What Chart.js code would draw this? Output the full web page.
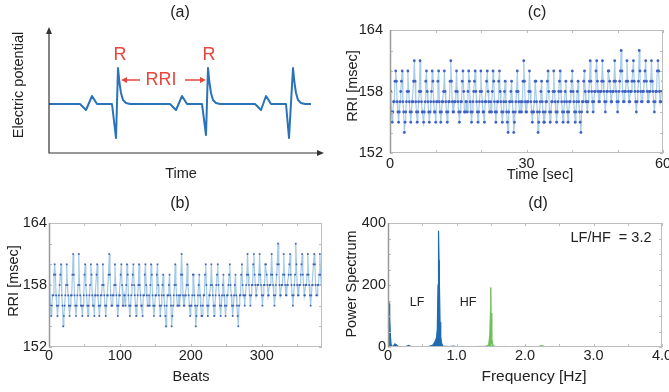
<!DOCTYPE html>
<html>
<head>
<meta charset="utf-8">
<script src="https://cdn.jsdelivr.net/npm/chart.js@4.4.1/dist/chart.umd.min.js"></script>
<style>
  html, body { margin: 0; padding: 0; background: #fff; }
  #wrap { position: relative; width: 669px; height: 392px; overflow: hidden; background: #fff; }
  #wrap canvas { position: absolute; left: 0; top: 0; }
</style>
</head>
<body>
<div id="wrap">
  <canvas id="ecgChart" width="669" height="392"></canvas>
  <canvas id="beatChart" width="669" height="392"></canvas>
  <canvas id="timeChart" width="669" height="392"></canvas>
  <canvas id="psdChart" width="669" height="392"></canvas>
</div>
<script>
// (a) schematic ECG trace (arbitrary units)
const ecgTime = [0, 31, 37, 43, 48, 63, 67, 69, 70.5, 72, 74, 77, 81,
  121, 127, 133, 138, 153, 157, 159, 160.5, 162, 164, 167, 171,
  206, 212, 217, 222, 237, 240, 244, 245.5, 247, 249, 252, 256, 262];
const ecgPotential = [49, 49, 43, 57, 49, 49, 15, 85, 70, 60, 53, 50, 49,
  49, 43, 57, 49, 49, 18, 85, 70, 60, 53, 50, 49,
  49, 43, 57, 49, 49, 15, 85, 70, 60, 53, 50, 49, 49];

// (b)/(c) RR intervals in msec, one per beat
const rri = [
  160, 158, 156, 155, 156, 157, 157, 159,
  160, 159, 157, 156, 155, 156, 157, 158, 159,
  160, 157, 156, 154, 155, 156, 157, 158,
  160, 158, 157, 156, 155, 156, 157, 157, 159,
  161, 159, 157, 156, 155, 156, 157, 158,
  161, 158, 157, 156, 156, 155, 156, 157, 159,
  160, 158, 157, 156, 155, 156, 157, 158,
  160, 159, 157, 156, 156, 155, 157, 157, 159,
  160, 157, 156, 155, 156, 157, 157, 158,
  160, 158, 157, 156, 155, 156, 157, 157, 159,
  161, 159, 157, 156, 156, 157, 157, 158,
  160, 158, 157, 156, 155, 156, 157, 157, 159,
  160, 158, 156, 156, 157, 157, 156, 158,
  160, 159, 157, 156, 155, 156, 157, 158, 159,
  160, 158, 157, 156, 155, 156, 157, 158,
  160, 158, 157, 156, 156, 155, 157, 157, 159,
  160, 158, 157, 156, 156, 157, 156, 158,
  160, 159, 157, 156, 155, 156, 157, 157, 159,
  160, 158, 157, 156, 155, 156, 157, 158,
  159, 157, 156, 155, 154, 156, 157, 157, 158,
  159, 157, 156, 154, 155, 156, 157, 158,
  160, 158, 157, 156, 156, 157, 156, 157, 159,
  161, 159, 157, 156, 156, 157, 157, 158,
  160, 158, 157, 156, 155, 156, 156, 157, 159,
  159, 157, 156, 154, 155, 156, 157, 158,
  159, 157, 156, 155, 155, 156, 157, 157, 159,
  160, 158, 156, 155, 156, 157, 157, 158,
  160, 158, 157, 156, 155, 156, 157, 158, 159,
  160, 158, 157, 156, 155, 156, 157, 158,
  159, 157, 156, 155, 156, 157, 157, 158, 159,
  160, 158, 157, 156, 155, 156, 157, 158,
  159, 157, 156, 155, 154, 156, 157, 157, 159,
  160, 158, 157, 157, 156, 157, 158, 159,
  161, 159, 158, 157, 156, 157, 158, 158, 160,
  161, 159, 158, 157, 157, 158, 158, 159,
  161, 159, 158, 157, 156, 157, 158, 158, 160,
  160, 159, 158, 157, 157, 158, 158, 159,
  161, 159, 158, 157, 156, 157, 158, 159, 160,
  162, 160, 158, 157, 157, 158, 158, 159,
  161, 159, 158, 157, 157, 158, 158, 159, 160,
  161, 159, 158, 157, 156, 157, 158, 159,
  162, 160, 158, 157, 157, 158, 158, 159, 160,
  161, 159, 158, 157, 157, 158, 158, 159,
  161, 159, 158, 157, 156, 157, 158, 158, 160,
  161, 160, 158, 157, 157, 158, 158, 159,
  161, 159, 158
];

// (d) power spectrum
const lfFreq = [0, 0.005, 0.015, 0.025, 0.035, 0.045, 0.06, 0.08, 0.1, 0.12, 0.15,
  0.2, 0.25, 0.28, 0.3, 0.33, 0.4, 0.5, 0.6, 0.65, 0.68, 0.7, 0.71, 0.72, 0.73,
  0.735, 0.74, 0.745, 0.75, 0.76, 0.77, 0.78, 0.8, 0.85, 0.9, 0.95, 1.0];
const lfPower = [90, 135, 140, 95, 35, 8, 2, 3, 10, 7, 2,
  1, 1, 3, 5, 2, 1, 1, 2, 5, 14, 25, 32, 60, 200,
  290, 375, 280, 210, 80, 35, 14, 3, 2, 1, 3, 1];
const hfFreq = [1.0, 1.1, 1.2, 1.3, 1.4, 1.45, 1.47, 1.485, 1.495, 1.5, 1.505, 1.515,
  1.53, 1.56, 1.6, 1.7, 1.8, 1.9, 2.0, 2.1, 2.2, 2.24, 2.26, 2.3, 2.4, 2.5, 2.6, 2.65];
const hfPower = [1, 2, 1, 2, 2, 4, 10, 40, 120, 192, 110, 30,
  8, 2, 1, 2, 1, 2, 1, 1, 2, 5, 4, 1, 2, 1, 2, 0];
const tailFreq = [3.55, 3.7, 3.85, 4.0];
const tailPower = [1, 1.5, 1, 1.5];

// tick labels
const rriTicks = [152, 158, 164];
const beatTicks = [0, 100, 200, 300];
const timeTicks = [0, 30, 60];
const powerTicks = [0, 200, 400];
const freqTicks = [0, 1, 2, 3, 4];
const freqTickLabels = ["0", "1.0", "2.0", "3.0", "4.0"];

const W = 669, H = 392;
const FONT = '"Liberation Sans", Arial, Helvetica, sans-serif';
const INK = "#222";

const toXY = (xs, ys) => xs.map((x, i) => ({ x: x, y: ys[i] }));

// time of each beat = running sum of the RR intervals
const beatTime = [];
let acc = 0;
rri.forEach((v) => {
  beatTime.push(acc);
  acc += v / 1000;
});

// free text drawn in canvas pixels
const textLayer = (items) => ({
  id: "texts",
  afterDraw(chart) {
    const ctx = chart.ctx;
    items.forEach((it) => {
      ctx.save();
      ctx.font = it.size + "px " + FONT;
      ctx.fillStyle = it.color || INK;
      ctx.textAlign = "center";
      ctx.textBaseline = "middle";
      ctx.translate(it.x, it.y);
      if (it.rot) ctx.rotate(it.rot);
      ctx.fillText(it.text, 0, 0);
      ctx.restore();
    });
  },
});

// matlab-like box with inward ticks
const boxLayer = {
  id: "box",
  afterDatasetsDraw(chart) {
    const { ctx, chartArea: a, scales } = chart;
    const x = scales.x, y = scales.y;
    ctx.save();
    ctx.strokeStyle = "#bdbdbd";
    ctx.lineWidth = 1;
    ctx.strokeRect(a.left + 0.5, a.top + 0.5, a.width - 1, a.height - 1);
    ctx.beginPath();
    x.ticks.forEach((t) => {
      const px = Math.round(x.getPixelForValue(t.value)) + 0.5;
      ctx.moveTo(px, a.bottom); ctx.lineTo(px, a.bottom - 3);
      ctx.moveTo(px, a.top); ctx.lineTo(px, a.top + 3);
    });
    y.ticks.forEach((t) => {
      const py = Math.round(y.getPixelForValue(t.value)) + 0.5;
      ctx.moveTo(a.left, py); ctx.lineTo(a.left + 3, py);
      ctx.moveTo(a.right, py); ctx.lineTo(a.right - 3, py);
    });
    ctx.stroke();
    ctx.strokeStyle = "#9a9a9a";
    ctx.lineWidth = 1.5;
    ctx.beginPath();
    ctx.moveTo(a.left + 0.5, a.top); ctx.lineTo(a.left + 0.5, a.bottom);
    ctx.stroke();
    ctx.restore();
  },
};

// (a) arrows and axes
const ecgDecor = {
  id: "ecgDecor",
  afterDraw(chart) {
    const { ctx, chartArea: a } = chart;
    const head = (x, y, dx, dy, len, wid) => {
      ctx.beginPath();
      ctx.moveTo(x, y);
      ctx.lineTo(x - dx * len - dy * wid, y - dy * len - dx * wid);
      ctx.lineTo(x - dx * len + dy * wid, y - dy * len + dx * wid);
      ctx.closePath();
      ctx.fill();
    };
    ctx.save();
    ctx.strokeStyle = "#333";
    ctx.fillStyle = "#333";
    ctx.lineWidth = 1.2;
    ctx.beginPath();
    ctx.moveTo(a.left, a.top + 2);
    ctx.lineTo(a.left, a.bottom);
    ctx.lineTo(a.right + 1, a.bottom);
    ctx.stroke();
    head(a.left, a.top - 3, 0, -1, 7, 3);
    head(a.right + 4, a.bottom, 1, 0, 7, 3);

    ctx.strokeStyle = "#e8463d";
    ctx.fillStyle = "#e8463d";
    ctx.lineWidth = 1.3;
    ctx.beginPath();
    ctx.moveTo(140, 80); ctx.lineTo(125, 80);
    ctx.moveTo(185, 80); ctx.lineTo(202, 80);
    ctx.stroke();
    head(121, 80, -1, 0, 6, 3);
    head(206, 80, 1, 0, 6, 3);
    ctx.restore();
  },
};

const fixedAxis = (size, horizontal) => (scale) => {
  if (horizontal) scale.height = size; else scale.width = size;
  scale.paddingLeft = 0; scale.paddingRight = 0;
  scale.paddingTop = 0; scale.paddingBottom = 0;
};

const layoutFor = (area, yW, xH) => ({
  padding: {
    left: area.left - yW,
    top: area.top,
    right: W - area.right,
    bottom: H - area.bottom - xH,
  },
});

const tickFont = { family: FONT, size: 14.5 };

const axis = (opts) => ({
  type: "linear",
  min: opts.min,
  max: opts.max,
  grid: { display: false, drawTicks: false },
  border: { display: false },
  afterFit: fixedAxis(opts.size, opts.horizontal),
  ticks: {
    stepSize: opts.step,
    includeBounds: false,
    autoSkip: false,
    maxRotation: 0,
    padding: opts.pad,
    color: INK,
    font: tickFont,
    callback: opts.label,
  },
});

const base = {
  responsive: false,
  animation: false,
  devicePixelRatio: 1,
  plugins: { legend: { display: false }, tooltip: { enabled: false } },
};

// (a)
const areaA = { left: 49, top: 30, right: 320, bottom: 153 };
new Chart(document.getElementById("ecgChart"), {
  type: "line",
  data: {
    datasets: [{
      data: toXY(ecgTime, ecgPotential),
      borderColor: "#2a73b8",
      borderWidth: 2,
      pointRadius: 0,
      tension: 0,
      borderJoinStyle: "round",
    }],
  },
  options: {
    ...base,
    layout: layoutFor(areaA, 0, 0),
    scales: {
      x: { type: "linear", display: false, min: 0, max: 271 },
      y: { type: "linear", display: false, min: 0, max: 123 },
    },
  },
  plugins: [ecgDecor, textLayer([
    { text: "(a)", x: 180, y: 13, size: 16 },
    { text: "Electric potential", x: 19, y: 85, size: 14.5, rot: -Math.PI / 2 },
    { text: "Time", x: 181, y: 174, size: 14.5 },
    { text: "R", x: 120, y: 55, size: 18, color: "#e8463d" },
    { text: "R", x: 209, y: 55, size: 18, color: "#e8463d" },
    { text: "RRI", x: 161, y: 80, size: 18, color: "#e8463d" },
  ])],
});

// (b)
const areaB = { left: 49, top: 223, right: 322, bottom: 347 };
new Chart(document.getElementById("beatChart"), {
  type: "line",
  data: {
    datasets: [{
      data: toXY(rri.map((v, i) => i), rri),
      borderColor: "#a3c9e7",
      borderWidth: 1.2,
      pointRadius: 1.2,
      pointStyle: "rect",
      pointBorderWidth: 0,
      pointBackgroundColor: "#3a5db5",
      tension: 0,
    }],
  },
  options: {
    ...base,
    layout: layoutFor(areaB, 49, 30),
    scales: {
      x: axis({ min: 0, max: 385, step: 50, size: 30, horizontal: true, pad: 0,
        label: (v) => (beatTicks.includes(v) ? String(v) : "") }),
      y: axis({ min: 152, max: 164, step: 2, size: 49, horizontal: false, pad: 2,
        label: (v) => (rriTicks.includes(v) ? String(v) : "") }),
    },
  },
  plugins: [boxLayer, textLayer([
    { text: "(b)", x: 180, y: 204, size: 16 },
    { text: "RRI [msec]", x: 14, y: 281, size: 14.5, rot: -Math.PI / 2 },
    { text: "Beats", x: 191, y: 377, size: 14.5 },
  ])],
});

// (c)
const areaC = { left: 390, top: 30, right: 663, bottom: 153 };
new Chart(document.getElementById("timeChart"), {
  type: "line",
  data: {
    datasets: [{
      data: toXY(beatTime, rri),
      borderColor: "#a8cce9",
      borderWidth: 1.2,
      pointRadius: 1.4,
      pointBorderWidth: 0,
      pointBackgroundColor: "#4062c4",
      tension: 0,
    }],
  },
  options: {
    ...base,
    layout: layoutFor(areaC, 60, 30),
    scales: {
      x: axis({ min: 0, max: 60, step: 10, size: 30, horizontal: true, pad: 2,
        label: (v) => (timeTicks.includes(v) ? String(v) : "") }),
      y: axis({ min: 152, max: 164, step: 2, size: 60, horizontal: false, pad: 7,
        label: (v) => (rriTicks.includes(v) ? String(v) : "") }),
    },
  },
  plugins: [boxLayer, textLayer([
    { text: "(c)", x: 537, y: 13, size: 16 },
    { text: "RRI [msec]", x: 353, y: 86, size: 14.5, rot: -Math.PI / 2 },
    { text: "Time [sec]", x: 540, y: 175, size: 14.5 },
  ])],
});

// (d)
const areaD = { left: 388, top: 223, right: 662, bottom: 347 };
const spectrumSet = (xs, ys, color, width) => ({
  data: toXY(xs, ys),
  borderColor: color,
  backgroundColor: color,
  borderWidth: width,
  pointRadius: 0,
  fill: "origin",
  tension: 0,
});
new Chart(document.getElementById("psdChart"), {
  type: "line",
  data: {
    datasets: [
      spectrumSet(lfFreq, lfPower, "#1f6ab0", 1.2),
      spectrumSet(hfFreq, hfPower, "#6cc05a", 1),
      spectrumSet(tailFreq, tailPower, "#5a93cc", 1),
    ],
  },
  options: {
    ...base,
    layout: layoutFor(areaD, 60, 30),
    scales: {
      x: axis({ min: 0, max: 4, step: 0.5, size: 30, horizontal: true, pad: 0,
        label: (v) => { const i = freqTicks.indexOf(v); return i >= 0 ? freqTickLabels[i] : ""; } }),
      y: axis({ min: 0, max: 400, step: 50, size: 60, horizontal: false, pad: 2,
        label: (v) => (powerTicks.includes(v) ? String(v) : "") }),
    },
  },
  plugins: [boxLayer, textLayer([
    { text: "(d)", x: 538, y: 204, size: 16 },
    { text: "Power Spectrum", x: 352, y: 284, size: 14.5, rot: -Math.PI / 2 },
    { text: "Frequency [Hz]", x: 534, y: 377, size: 15.5 },
    { text: "LF/HF  = 3.2", x: 611, y: 238, size: 14.5 },
    { text: "LF", x: 417, y: 303, size: 12.5 },
    { text: "HF", x: 468, y: 303, size: 12.5 },
  ])],
});
</script>
</body>
</html>
